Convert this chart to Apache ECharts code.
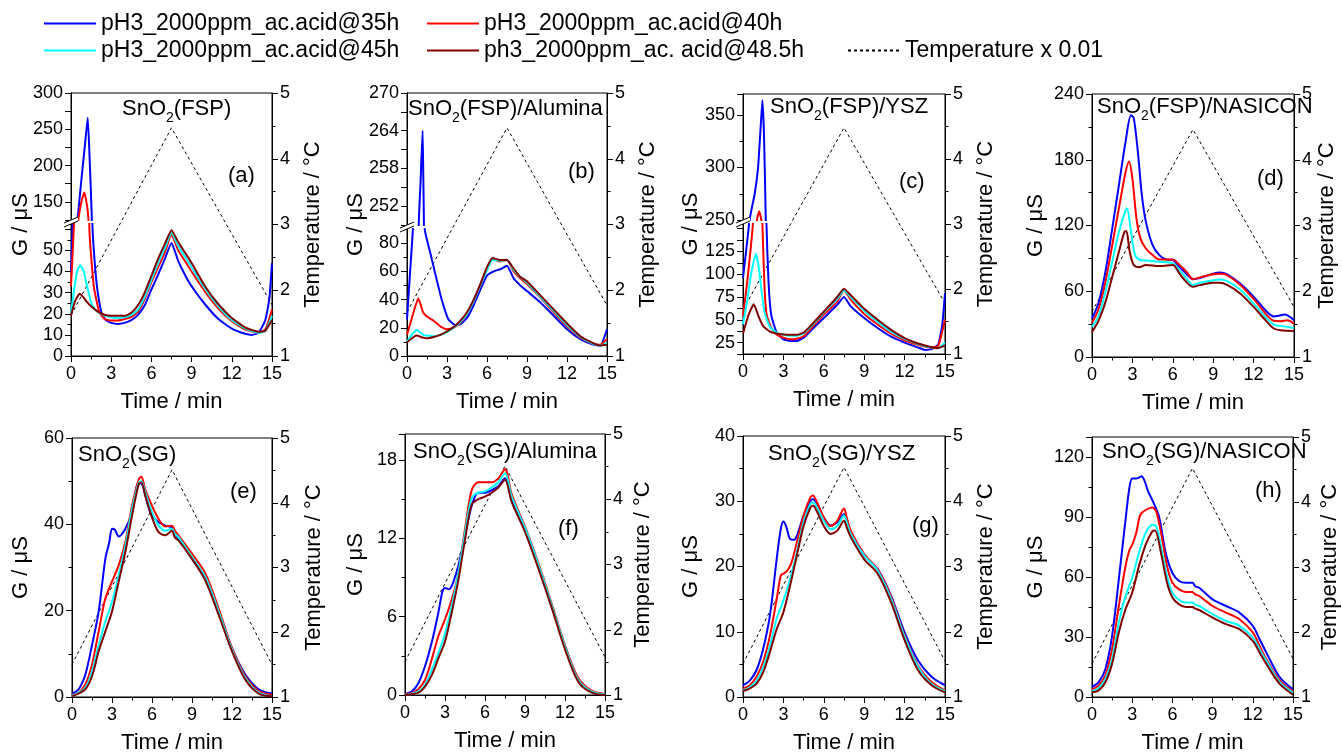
<!DOCTYPE html>
<html><head><meta charset="utf-8">
<script src="https://cdn.jsdelivr.net/npm/echarts@6/dist/echarts.min.js"></script>
<style>html,body{margin:0;padding:0;background:#fff}#c{width:1342px;height:755px}</style>
</head><body><div id="c"></div>
<script>
// ---------------- DATA ----------------
const seriesNames = ['pH3_2000ppm_ac.acid@35h','pH3_2000ppm_ac.acid@40h','pH3_2000ppm_ac.acid@45h','ph3_2000ppm_ac. acid@48.5h'];
const tempName = 'Temperature x 0.01';
const timeTicks = [0,3,6,9,12,15];
const tempTicks = [1,2,3,4,5];

// (a) SnO2(FSP)
const a35 = [[0,40],[0.25,85],[0.5,128],[0.8,185],[1.05,230],[1.25,266],[1.4,205],[1.55,130],[1.6,62],[1.8,42],[2.0,30],[2.3,20],[2.6,17],[3,15.7],[3.5,15.2],[4,15.7],[4.5,17],[5,19.5],[5.5,24],[6,31.5],[6.5,38.5],[7,46],[7.5,53.5],[8,45],[8.5,38.5],[9,33],[10,24.5],[11,17.5],[12,13],[13,10.5],[13.5,10],[14,11],[14.5,17],[14.8,27],[15,44]];
const a40 = [[0,33],[0.22,62],[0.55,126],[0.8,152],[1.0,163],[1.15,150],[1.3,127],[1.37,60],[1.7,33],[2.1,21],[2.5,17.5],[3,16.8],[3.5,16.8],[4,17.5],[4.5,18.5],[5,21],[5.5,27],[6,35],[6.5,42],[7,49],[7.5,57.5],[8,50],[8.5,45],[9,40],[10,30.5],[11,22.5],[12,16.5],[13,12.5],[14,11],[14.5,12.5],[15,22]];
const a45 = [[0,20],[0.2,30],[0.45,40],[0.7,43],[0.95,40],[1.2,33],[1.5,25.5],[1.8,22],[2.2,20],[2.6,19],[3,18.3],[3.5,18],[4,18.3],[4.5,19.5],[5,22],[5.5,28],[6,36],[6.5,44],[7,51],[7.5,58.5],[8,52],[8.5,47],[9,42],[10,32],[11,23.5],[12,17],[13,13],[14,11],[14.5,11.8],[15,19]];
const a48 = [[0,19],[0.3,26],[0.65,29.5],[0.9,28],[1.2,25.5],[1.5,23.5],[2,21],[2.5,19.5],[3,19],[3.5,19],[4,19],[4.5,20.5],[5,24],[5.5,30],[6,38],[6.5,46],[7,53],[7.5,59.5],[8,54],[8.5,49],[9,44],[10,33],[11,24.5],[12,18],[13,13.5],[14,11.5],[14.5,12],[15,17]];
const aTemp = [[0,1.62],[7.5,4.47],[15,1.78]];
const aLowTicks = [0,10,20,30,40,50];
const aHighTicks = [150,200,250,300];

// (b) SnO2(FSP)/Alumina
const b35 = [[0,26],[0.2,55],[0.45,92],[0.88,249],[1.02,256],[1.17,264],[1.22,257],[1.27,249],[1.33,90],[1.75,73],[2.1,59],[2.6,40],[3.1,26],[3.6,22],[4,22.5],[4.5,27],[5,36],[5.5,47],[6,57],[6.5,60],[7,61.5],[7.5,64],[8,55],[8.5,50],[9,46],[10,38],[11,28.5],[12,19],[13,12],[14,8],[14.5,7.5],[15,19]];
const b40 = [[0,15],[0.4,28],[0.85,41],[1.2,31],[1.5,28],[2,25],[2.5,21],[3,19],[3.5,20],[4,23.5],[4.5,30],[5,39],[5.5,50],[6,62],[6.4,68.5],[7,67],[7.5,68],[8,60],[8.5,55],[9,51],[10,41.5],[11,31],[12,21],[13,13],[14,8.5],[14.5,8],[15,12]];
const b45 = [[0,10],[0.35,15],[0.75,18.5],[1.2,15],[1.5,14.5],[2,14],[2.5,15],[3,17],[3.5,20],[4,24],[4.5,30],[5,39],[5.5,50],[6,61],[6.4,68],[7,67.5],[7.5,68],[8,61],[8.5,56],[9,52],[10,42],[11,32],[12,22],[13,13.5],[14,8.5],[14.5,7.5],[15,9]];
const b48 = [[0,9.5],[0.3,12],[0.7,14.5],[1.2,13],[1.5,12.5],[2,13.5],[2.5,15],[3,17.5],[3.5,20.5],[4,25],[4.5,31],[5,40],[5.5,51],[6,63],[6.4,69.5],[7,68],[7.5,68],[8,62],[8.5,56],[9,53],[10,43],[11,33],[12,23],[13,14],[14,9],[14.5,7.5],[15,8]];
const bTemp = [[0,1.67],[7.5,4.47],[15,1.77]];
const bLowTicks = [0,20,40,60,80];
const bHighTicks = [252,258,264,270];

// (c) SnO2(FSP)/YSZ
const c35 = [[0,96],[0.25,128],[0.45,156],[0.5,250],[0.87,275],[1.12,300],[1.29,334],[1.44,364],[1.56,331],[1.69,250],[1.74,156],[1.9,90],[2.1,55],[2.5,36],[3,28.6],[3.5,26.8],[4,26.8],[4.5,30.4],[5,37.6],[6,52],[7,66.5],[7.5,75],[8,64.7],[9,52],[10,41],[11,31.5],[12,25],[13,19.6],[13.5,17],[14,17.8],[14.5,23],[14.8,45],[15,79]];
const c40 = [[0,54],[0.3,90],[0.55,125],[0.74,156],[1.04,250],[1.2,258],[1.36,250],[1.44,156],[1.6,85],[1.75,56],[2.1,41],[2.5,34],[3,30.4],[3.5,28.6],[4,29.3],[4.5,32],[5,39.4],[6,55.7],[7,70],[7.5,82.5],[8,72],[9,56.4],[10,44.9],[11,34.7],[12,27.5],[13,22.5],[14,19.6],[14.5,21.4],[15,50]];
const c45 = [[0,45],[0.3,70],[0.6,100],[0.95,122],[1.15,110],[1.35,85],[1.6,58],[2,42],[2.5,36],[3,33.5],[3.5,32.5],[4,32.5],[4.5,35],[5,42],[6,58],[7,73],[7.5,82],[8,75],[9,60],[10,48],[11,37],[12,29],[13,23.5],[14,19.5],[14.5,19],[15,25]];
const c48 = [[0,34.7],[0.4,55],[0.8,67],[1.2,52],[1.5,43],[2,37],[2.5,35],[3,34],[3.5,33.5],[4,33.5],[4.5,36],[5,43],[6,59],[7,75],[7.5,84],[8,77],[9,62],[10,50],[11,39],[12,30],[13,24],[14,20],[14.5,19],[15,22]];
const cTemp = [[0,1.68],[7.5,4.48],[15,1.78]];
const cLowTicks = [25,50,75,100,125];
const cHighTicks = [250,300,350];

// (d) SnO2(FSP)/NASICON
const d35 = [[0,35],[0.5,50],[1,78],[1.5,117],[2,157],[2.5,197],[2.9,220.5],[3.1,218],[3.4,188],[3.7,148],[4,123.5],[4.5,102],[5,93],[5.5,89],[6,88.5],[6.5,82],[7,76],[7.5,71],[8,72],[9,76],[9.5,77],[10,75.6],[11,67],[12,55],[13,41],[13.5,37],[14,38],[14.3,38.7],[15,33.5]];
const d40 = [[0,31],[0.5,44],[1,68.6],[1.5,102],[2,136],[2.5,169],[2.75,178.4],[3,163],[3.3,126.6],[3.6,108],[4,99],[4.5,93],[5,89],[6,89],[6.5,84],[7,78],[7.5,71],[8,72.6],[9,75.6],[9.5,76],[10,75],[11,66],[12,53],[13,38],[13.5,33],[14,32.6],[14.5,33.5],[15,30.5]];
const d45 = [[0,27.4],[0.5,38],[1,59.5],[1.5,87],[2,114],[2.5,134],[2.6,135.7],[2.9,114],[3.2,93],[3.6,88.5],[4,88],[5,87],[6,85.4],[6.5,79],[7,72],[7.5,65.6],[8,67.7],[9,70],[9.5,70.8],[10,69.5],[11,61.6],[12,48.8],[13,35],[13.5,29.6],[14,28.4],[15,26.5]];
const d48 = [[0,22.9],[0.5,33.5],[1,50.3],[1.5,73],[2,96],[2.4,114],[2.55,115],[2.8,96],[3.1,84],[3.5,82],[4,84],[5,83],[6,84],[6.5,76],[7,68.6],[7.5,64],[8,65.6],[9,67.7],[9.5,67.7],[10,66],[11,58],[12,45.7],[13,32],[13.5,26],[14,24.4],[15,23.8]];
const dTemp = [[0,1.69],[7.5,4.46],[15,1.76]];
const dTicks = [0,60,120,180,240];

// (e) SnO2(SG)
const e35 = [[0,0.8],[0.5,1.8],[1,5.2],[1.5,12],[2,19.8],[2.5,32],[2.8,35.9],[3,39],[3.2,38.8],[3.5,37.2],[4,39],[4.5,42.8],[5,49.7],[5.3,49],[5.7,44.3],[6,42],[6.5,40.5],[7,39.7],[7.5,39.3],[7.7,37.8],[8,36.6],[9,32],[10,27.4],[11,19.8],[12,11.3],[13,5.2],[14,1.8],[15,0.8]];
const e40 = [[0,0.5],[0.5,1],[1,2.9],[1.5,7.5],[2,15.2],[2.5,22.8],[3,26.7],[3.5,30.5],[4,35.9],[4.5,44.3],[5,50.4],[5.2,51],[5.5,48],[6,44.3],[6.5,41.2],[7,39.5],[7.5,39.7],[7.7,38.6],[8,37.4],[9,33.2],[10,28.6],[11,20.5],[12,11.3],[13,4.8],[14,1.4],[15,0.5]];
const e45 = [[0,0.3],[1,2.1],[1.5,6],[2,12],[2.5,17.5],[3,22],[3.5,28.2],[4,35],[4.5,43.5],[5,49.7],[5.2,50],[5.5,47.4],[6,42.8],[6.5,39.7],[7,38.5],[7.5,39],[7.7,37.8],[8,37],[9,32.4],[10,27.8],[11,19.8],[12,11],[13,4.4],[14,1],[15,0.2]];
const e48 = [[0,0.15],[1,1.8],[1.5,4.8],[2,10.6],[2.5,15.2],[3,19.8],[3.5,26.7],[4,33.6],[4.5,42],[5,49.3],[5.2,49.7],[5.5,46.6],[6,41.6],[6.5,38.2],[7,37.5],[7.5,38.5],[7.7,37],[8,36.2],[9,32],[10,27],[11,19],[12,10.6],[13,4],[14,0.8],[15,0.15]];
const eTemp = [[0,1.5],[7.5,4.51],[15,1.5]];
const eTicks = [0,20,40,60];

// (f) SnO2(SG)/Alumina
const f35 = [[0,0.08],[0.5,0.26],[1,0.9],[1.5,2.2],[2,4],[2.5,6.3],[2.8,7.9],[3,8.2],[3.3,8.1],[3.6,8.6],[4,9.9],[4.5,12.2],[5,14.5],[5.5,15.5],[6,15.5],[6.5,15.7],[7,16],[7.5,16.6],[8,15],[9,12.7],[10,9.9],[11,6.8],[12,3.7],[13,1.15],[14,0.26],[15,0.08]];
const f40 = [[0,0.05],[0.5,0.13],[1,0.44],[1.5,1.15],[2,2.7],[2.5,4.5],[3,5.8],[3.5,7.3],[4,9.3],[4.5,12.7],[5,15.7],[5.5,16.3],[6,16.3],[6.5,16.3],[7,16.6],[7.5,17.3],[8,15.4],[9,12.9],[10,10.1],[11,7],[12,3.8],[13,1.3],[14,0.33],[15,0.08]];
const f45 = [[0,0],[1,0.26],[1.5,0.77],[2,1.9],[2.5,3.2],[3,4.7],[3.5,6.8],[4,9.3],[4.5,12.4],[5,15.1],[5.5,15.5],[6,15.6],[6.5,15.9],[7,16.3],[7.5,17],[8,15.2],[9,12.8],[10,10],[11,6.9],[12,3.7],[13,1.15],[14,0.26],[15,0.05]];
const f48 = [[0,0],[1,0.18],[1.5,0.64],[2,1.5],[2.5,2.8],[3,4.1],[3.5,6.3],[4,8.8],[4.5,11.9],[5,14.6],[5.5,15],[6,15.2],[6.5,15.5],[7,15.9],[7.5,16.5],[8,14.8],[9,12.5],[10,9.7],[11,6.7],[12,3.5],[13,1],[14,0.18],[15,0]];
const fTemp = [[0,1.51],[7.5,4.51],[15,1.58]];
const fTicks = [0,6,12,18];

// (g) SnO2(SG)/YSZ
const g35 = [[0,1.8],[0.5,2.5],[1,4.1],[1.5,7.4],[2,12.5],[2.5,21.1],[2.8,25.7],[3,26.9],[3.2,26.2],[3.5,24.2],[3.8,24.1],[4,24.7],[4.5,27.8],[5,30],[5.2,30.3],[5.5,29.6],[6,27.5],[6.5,26.3],[7,26.8],[7.5,28],[7.7,27.3],[8,25.2],[9,21.7],[10,19.6],[11,15.5],[12,9.9],[13,5.6],[14,3.1],[15,1.8]];
const g40 = [[0,1.3],[0.5,1.8],[1,3.1],[1.5,5.4],[2,9.4],[2.5,15],[2.8,18.6],[3,18.9],[3.3,19.4],[3.6,20.6],[4,23.7],[4.5,27.8],[5,30.6],[5.2,30.9],[5.5,29.8],[6,27.5],[6.5,26.2],[7,27],[7.5,28.9],[7.7,27.5],[8,25.5],[9,21.9],[10,19.6],[11,15.3],[12,9.4],[13,4.8],[14,2.3],[15,1]];
const g45 = [[0,1],[0.5,1.5],[1,2.5],[1.5,4.6],[2,7.9],[2.5,12],[3,14.8],[3.5,18.1],[4,22.2],[4.5,26.8],[5,29.6],[5.2,29.8],[5.5,29],[6,27],[6.5,25.7],[7,26.2],[7.5,27.8],[7.7,26.8],[8,25],[9,21.7],[10,19.4],[11,15],[12,9.2],[13,4.6],[14,2],[15,0.9]];
const g48 = [[0,0.9],[0.5,1.3],[1,2],[1.5,3.8],[2,6.9],[2.5,10.4],[3,13],[3.5,17.1],[4,21.7],[4.5,26.2],[5,29],[5.2,29.3],[5.5,28.4],[6,26.2],[6.5,25],[7,25.5],[7.5,27],[7.7,26],[8,24.5],[9,21.1],[10,18.9],[11,14.5],[12,8.7],[13,4.1],[14,1.8],[15,0.7]];
const gTemp = [[0,1.51],[7.5,4.52],[15,1.55]];
const gTicks = [0,10,20,30,40];

// (h) SnO2(SG)/NASICON
const h35 = [[0,5],[0.5,7.4],[1,14],[1.5,30.6],[2,58.8],[2.5,88.5],[2.8,105],[3,109.2],[3.3,109.2],[3.5,109.7],[3.7,110.4],[3.9,108.4],[4.2,102.6],[4.5,98.5],[5,90.2],[5.5,72],[6,62],[6.5,58],[7,57.1],[7.5,57.1],[7.7,55.4],[8,54.6],[9,48.8],[10,45.5],[11,42.2],[12,35.6],[12.5,29],[13,22.3],[14,10],[15,3.8]];
const h40 = [[0,3.8],[0.5,5.8],[1,10.8],[1.5,24],[2,45.5],[2.5,65.4],[2.8,73.6],[3,76.1],[3.3,82],[3.6,91],[4,93.5],[4.5,94.7],[4.8,92.7],[5.2,80.3],[5.6,65.4],[6,57.1],[6.5,53.8],[7,52.5],[7.5,52.5],[7.7,51.3],[8,50.5],[9,45.5],[10,42.2],[11,38.9],[12,32.3],[12.5,25.7],[13,19],[14,8.3],[15,2.8]];
const h45 = [[0,2.8],[0.5,4.5],[1,9.1],[1.5,19],[2,37.2],[2.5,50.5],[3,59.6],[3.5,72],[4,82],[4.5,86],[4.8,85.2],[5.2,73.6],[5.6,60.4],[6,52.1],[6.5,48.5],[7,47.2],[7.5,47.2],[7.7,46.2],[8,45.5],[9,41.4],[10,38],[11,35.6],[12,29.8],[12.5,24],[13,18.2],[14,7.4],[15,2.2]];
const h48 = [[0,2.2],[0.5,3.3],[1,7.4],[1.5,16.6],[2,32.3],[2.5,43.9],[3,52.1],[3.5,65.4],[4,76.1],[4.5,82.8],[4.7,83.3],[5.2,70.3],[5.6,57.1],[6,49.7],[6.5,46.3],[7,45],[7.5,45],[7.7,44.2],[8,43.5],[9,39.7],[10,36.4],[11,33.9],[12,28.1],[12.5,22.3],[13,16.6],[14,6.6],[15,1.2]];
const hTemp = [[0,1.51],[7.5,4.52],[15,1.59]];
const hTicks = [0,30,60,90,120];

// ---------------- LAYOUT / STYLE ----------------
const FONT = '"Liberation Sans", Arial, Helvetica, sans-serif';
const colors = ['#0000ff','#ff0000','#00ffff','#800000'];

const panels = [
 {box:[71,93,272,356], title:['SnO','2','(FSP)'], tp:[122,98], lab:'(a)', lp:[228,165], data:[a35,a40,a45,a48], temp:aTemp, ln:39, rn:30, sm:0.15,
  brk:222, segs:[{min:0,max:62.5,interval:10,ticks:aLowTicks,minor:true},{min:125,max:300,interval:25,ticks:aHighTicks,minor:false}]},
 {box:[407,93,607,356], title:['SnO','2','(FSP)/Alumina'], tp:[408,98], lab:'(b)', lp:[568,161], data:[b35,b40,b45,b48], temp:bTemp, ln:40, rn:30, sm:0.15,
  brk:227, segs:[{min:0,max:90,interval:20,ticks:bLowTicks,minor:true},{min:249,max:270,interval:3,ticks:bHighTicks,minor:false}]},
 {box:[743,94,945,354], title:['SnO','2','(FSP)/YSZ'], tp:[770,96], lab:'(c)', lp:[899,171], data:[c35,c40,c45,c48], temp:cTemp, ln:41, rn:30, sm:0.15,
  brk:222, segs:[{min:12.5,max:155,interval:12.5,ticks:cLowTicks,minor:false},{min:250,max:370,interval:50,ticks:cHighTicks,minor:true}]},
 {box:[1092,94,1294,357], title:['SnO','2','(FSP)/NASICON'], tp:[1097,96], lab:'(d)', lp:[1257,168], data:[d35,d40,d45,d48], temp:dTemp, ln:45, rn:22, sm:0.3,
  y:{min:0,max:240,interval:60,ticks:dTicks}},
 {box:[72,438,272,699], title:['SnO','2','(SG)'], tp:[78,444], lab:'(e)', lp:[230,481], data:[e35,e40,e45,e48], temp:eTemp, ln:40, rn:31, sm:0.3,
  y:{min:0,max:60,interval:20,ticks:eTicks}},
 {box:[405,434,605,695], title:['SnO','2','(SG)/Alumina'], tp:[413,441], lab:'(f)', lp:[558,518], data:[f35,f40,f45,f48], temp:fTemp, ln:38, rn:27, sm:0.3,
  y:{min:0,max:20,interval:6,ticks:fTicks}},
 {box:[743,436,945,698], title:['SnO','2','(SG)/YSZ'], tp:[768,443], lab:'(g)', lp:[912,515], data:[g35,g40,g45,g48], temp:gTemp, ln:41, rn:30, sm:0.3,
  y:{min:0,max:40,interval:10,ticks:gTicks}},
 {box:[1092,437,1294,698], title:['SnO','2','(SG)/NASICON'], tp:[1102,441], lab:'(h)', lp:[1255,480], data:[h35,h40,h45,h48], temp:hTemp, ln:45, rn:26, sm:0.3,
  y:{min:0,max:130,interval:30,ticks:hTicks}}
];

function fmt(ticks){ return v => ticks.some(t => Math.abs(t - v) < 1e-6) ? String(v) : ''; }
function axisCommon(){
  return {
    axisLine:{show:true, onZero:false, lineStyle:{color:'#000', width:1}},
    axisTick:{show:true, inside:false, length:6, lineStyle:{color:'#000', width:1}},
    minorTick:{show:false},
    splitLine:{show:false}, minorSplitLine:{show:false},
    nameTextStyle:{color:'#000', fontSize:22, fontFamily:FONT}
  };
}
function valueAxis(gi, position, min, max, interval, ticks, minor, labelMargin){
  return Object.assign(axisCommon(), {
    gridIndex:gi, type:'value', position, min, max, interval,
    minorTick:{show:!!minor, splitNumber:2, length:3.5, lineStyle:{color:'#000', width:1}},
    axisLabel:{show:true, color:'#000', fontSize:18, fontFamily:FONT, margin:labelMargin, formatter:fmt(ticks), showMaxLabel:true, showMinLabel:true}
  });
}
function lineSeries(name, data, color, xi, yi, smooth){
  return {type:'line', name, data, xAxisIndex:xi, yAxisIndex:yi, showSymbol:false, symbol:'none',
    smooth, clip:true, silent:true, z:3, lineStyle:{color, width:2}, itemStyle:{color}, emphasis:{disabled:true}};
}

const option = {animation:false, backgroundColor:'#fff', textStyle:{fontFamily:FONT},
  grid:[], xAxis:[], yAxis:[], series:[], title:[], legend:[], graphic:[]};

panels.forEach(p => {
  const [l,t,r,b] = p.box;
  const gi = option.grid.length;
  option.grid.push({left:l, top:t, width:r-l, height:b-t, show:true, borderColor:'#000', borderWidth:1, backgroundColor:'rgba(0,0,0,0)'});
  const xi = option.xAxis.length;
  const xa = valueAxis(gi, 'bottom', 0, 15, 3, timeTicks, true, 9);
  Object.assign(xa, {name:'Time / min', nameLocation:'middle', nameGap:35});
  option.xAxis.push(xa);
  const yl = option.yAxis.length;
  let ya;
  if (p.y) {
    ya = valueAxis(gi, 'left', p.y.min, p.y.max, p.y.interval, p.y.ticks, true, 8);
  } else {
    ya = Object.assign(axisCommon(), {gridIndex:gi, type:'value', position:'left', min:0, max:1, axisTick:{show:false}, axisLabel:{show:false}});
  }
  Object.assign(ya, {name:'G / μS', nameLocation:'middle', nameRotate:90, nameGap:p.ln});
  option.yAxis.push(ya);
  const yr = option.yAxis.length;
  const yra = valueAxis(gi, 'right', 1, 5, 1, tempTicks, true, 8);
  Object.assign(yra, {name:'Temperature / °C', nameLocation:'middle', nameRotate:90, nameGap:p.rn});
  option.yAxis.push(yra);
  option.series.push({type:'line', name:tempName, data:p.temp, xAxisIndex:xi, yAxisIndex:yr, showSymbol:false, symbol:'none',
    silent:true, z:2, lineStyle:{color:'#000', width:1, type:[3,3]}, itemStyle:{color:'#000'}, emphasis:{disabled:true}});

  if (p.y) {
    p.data.forEach((d,k) => option.series.push(lineSeries(seriesNames[k], d, colors[k], xi, yl, p.sm)));
  } else {
    const segBoxes = [[p.brk+2, b], [t, p.brk-2]];
    p.segs.forEach((s, si) => {
      const [st, sb] = segBoxes[si];
      const sg = option.grid.length;
      option.grid.push({left:l, top:st, width:r-l, height:sb-st, show:false});
      const sx = option.xAxis.length;
      option.xAxis.push({gridIndex:sg, type:'value', min:0, max:15, show:false});
      const sy = option.yAxis.length;
      option.yAxis.push(valueAxis(sg, 'left', s.min, s.max, s.interval, s.ticks, s.minor, 8));
      p.data.forEach((d,k) => option.series.push(lineSeries(seriesNames[k], d, colors[k], sx, sy, p.sm)));
    });
    const y = p.brk;
    option.graphic.push({type:'polygon', shape:{points:[[l-7,y+1],[l+7,y-5],[l+7,y-1],[l-7,y+5]]}, style:{fill:'#fff', stroke:null}, z:100, silent:true});
    option.graphic.push({type:'line', shape:{x1:l-7,y1:y+1,x2:l+7,y2:y-5}, style:{stroke:'#000', lineWidth:1}, z:101, silent:true});
    option.graphic.push({type:'line', shape:{x1:l-7,y1:y+5,x2:l+7,y2:y-1}, style:{stroke:'#000', lineWidth:1}, z:101, silent:true});
  }
  option.title.push({left:p.tp[0], top:p.tp[1], padding:0,
    text:'{n|' + p.title[0] + '}{s|' + p.title[1] + '}{n|' + p.title[2] + '}',
    textStyle:{fontWeight:'normal', color:'#000', fontFamily:FONT, fontSize:22,
      rich:{n:{fontSize:22, fontFamily:FONT, color:'#000', lineHeight:22, verticalAlign:'top'},
            s:{fontSize:14, fontFamily:FONT, color:'#000', lineHeight:12, verticalAlign:'top', padding:[13,0,0,0]}}}});
  option.title.push({left:p.lp[0], top:p.lp[1], padding:0, text:p.lab,
    textStyle:{fontWeight:'normal', color:'#000', fontFamily:FONT, fontSize:22}});
});

const legendBase = {orient:'horizontal', itemWidth:52, itemHeight:14, itemGap:0, padding:0, selectedMode:false,
  itemStyle:{opacity:0}, textStyle:{fontSize:23, fontFamily:FONT, color:'#000'}};
const legendPos = [[43,12],[426,12],[43,39],[426,39],[847,39]];
const legendNames = seriesNames.concat([tempName]);
legendNames.forEach((n,i) => option.legend.push(Object.assign({}, legendBase, {data:[n], left:legendPos[i][0], top:legendPos[i][1]})));

const chart = echarts.init(document.getElementById('c'), null, {renderer:'canvas'});
chart.setOption(option);
</script></body></html>
